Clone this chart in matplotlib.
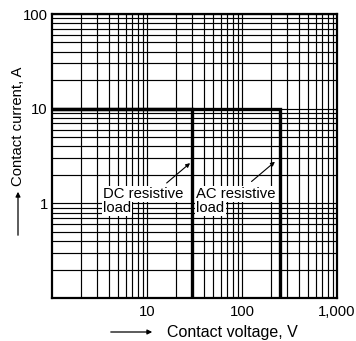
import matplotlib
matplotlib.use("Agg")
import matplotlib.pyplot as plt
from matplotlib.patches import FancyArrowPatch
from matplotlib.ticker import FixedLocator, LogLocator, NullFormatter

plt.rcParams['font.family'] = ['Liberation Sans', 'DejaVu Sans']

# rating boundaries (voltage V, current A)
dc_x = [1, 30, 30]
dc_y = [10, 10, 0.1]
ac_x = [1, 250, 250]
ac_y = [10, 10, 0.1]

xticks = [10, 100, 1000]
xlabels = ["10", "100", "1,000"]
yticks = [1, 10, 100]
ylabels = ["1", "10", "100"]

fig = plt.figure(figsize=(3.56, 3.41), dpi=100)
ax = fig.add_axes([52/356, 1-298/341, 285/356, 284/341])

ax.set_xscale('log')
ax.set_yscale('log')
ax.set_xlim(1, 1000)
ax.set_ylim(0.1, 100)

ax.xaxis.set_major_locator(FixedLocator(xticks))
ax.set_xticklabels(xlabels)
ax.yaxis.set_major_locator(FixedLocator(yticks))
ax.set_yticklabels(ylabels)
ax.xaxis.set_minor_locator(LogLocator(base=10, subs=range(2, 10)))
ax.yaxis.set_minor_locator(LogLocator(base=10, subs=range(2, 10)))
ax.xaxis.set_minor_formatter(NullFormatter())
ax.yaxis.set_minor_formatter(NullFormatter())
ax.tick_params(which='both', length=0, labelsize=10.7)
ax.tick_params(axis='x', pad=5)
ax.tick_params(axis='y', pad=3)

ax.grid(True, which='both', color='black', linewidth=0.85)
ax.set_axisbelow(True)
for s in ax.spines.values():
    s.set_linewidth(1.6)

ax.plot(dc_x, dc_y, color='black', linewidth=2.4, solid_joinstyle='miter')
ax.plot(ac_x, ac_y, color='black', linewidth=2.4, solid_joinstyle='miter')

box = dict(facecolor='white', edgecolor='none', pad=1.0)
fs = 10.7
ax.text(3.44, 1.14, "DC resistive", fontsize=fs, va='baseline', ha='left', bbox=box)
ax.text(3.44, 0.81, "load", fontsize=fs, va='baseline', ha='left', bbox=box)
ax.text(33, 1.14, "AC resistive", fontsize=fs, va='baseline', ha='left', bbox=box)
ax.text(33, 0.81, "load", fontsize=fs, va='baseline', ha='left', bbox=box)

arw = dict(arrowstyle='-|>', color='black', linewidth=0.8, mutation_scale=6,
           shrinkA=0, shrinkB=0)
ax.annotate("", xy=(28.4, 2.66), xytext=(16.1, 1.64), arrowprops=arw)
ax.annotate("", xy=(222, 2.75), xytext=(126, 1.7), arrowprops=arw)

# axis titles with arrows
fig.text(18/356, 1-126/341, "Contact current, A", rotation=90, fontsize=10.7,
         ha='center', va='center')
fig.text(167/356, 1-332/341, "Contact voltage, V", fontsize=11.5,
         ha='left', va='center')
fig.add_artist(FancyArrowPatch(
    (18/356, 1-238/341), (18/356, 1-189/341), transform=fig.transFigure,
    arrowstyle='-|>', mutation_scale=7, color='black', linewidth=0.9))
fig.add_artist(FancyArrowPatch(
    (108/356, 1-332/341), (155/356, 1-332/341), transform=fig.transFigure,
    arrowstyle='-|>', mutation_scale=7, color='black', linewidth=0.9))

fig.savefig("out.png", dpi=100)
